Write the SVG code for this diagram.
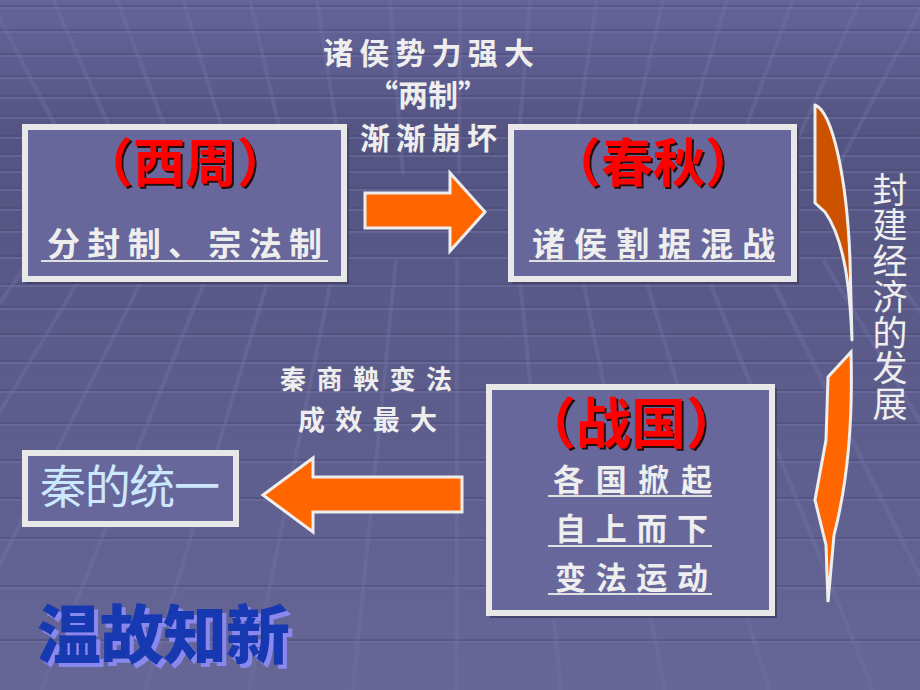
<svg xmlns="http://www.w3.org/2000/svg" width="920" height="690" viewBox="0 0 920 690">
<defs>
<linearGradient id="bg" x1="0" y1="0" x2="0" y2="1">
<stop offset="0" stop-color="#64649a"/>
<stop offset="0.2" stop-color="#545482"/>
<stop offset="0.45" stop-color="#5a5a89"/>
<stop offset="1" stop-color="#666697"/>
</linearGradient>
<filter id="redshadow" x="-10%" y="-10%" width="130%" height="130%">
<feDropShadow dx="2" dy="2" stdDeviation="0.6" flood-color="#220810" flood-opacity="1"/>
</filter>
<filter id="blueshadow" x="-10%" y="-10%" width="130%" height="130%">
<feDropShadow dx="4" dy="4" stdDeviation="0.5" flood-color="#8888ee" flood-opacity="1"/>
</filter>
<style>
.hl{stroke:#7070a3;stroke-width:2;opacity:0.55}
.hd{stroke:#4c4c78;stroke-width:2;opacity:0.5}
.dl{stroke:#7272a6;stroke-width:4;opacity:0.38}
.box{fill:#67679b;stroke:#e8e8e8;stroke-width:6}
.shd{fill:#44446c}
.title{font-family:"Noto Sans CJK SC","Noto Sans CJK TC",sans-serif;font-weight:700;text-anchor:middle;fill:#ff0000;filter:url(#redshadow)}
.cal{font-family:"Noto Sans CJK SC","Noto Sans CJK TC",sans-serif;font-weight:700;fill:#eeeeee}
.ul{stroke:#e0e0e0;stroke-width:2}
.arr{fill:#ff6600;stroke:#eeeeee;stroke-width:3;stroke-linejoin:miter}
.vt{font-family:"Noto Sans CJK SC",sans-serif;font-size:35px;fill:#eeeeee;writing-mode:vertical-rl;letter-spacing:0.7px}
</style>
</defs>
<rect width="920" height="690" fill="url(#bg)"/>
<g id="grid">
<g>
<line class="hd" x1="0" y1="6" x2="920" y2="6"/><line class="hl" x1="0" y1="8" x2="920" y2="8"/>
<line class="hd" x1="0" y1="30" x2="920" y2="30"/><line class="hl" x1="0" y1="32" x2="920" y2="32"/>
<line class="hd" x1="0" y1="54" x2="920" y2="54"/><line class="hl" x1="0" y1="56" x2="920" y2="56"/>
<line class="hd" x1="0" y1="76" x2="920" y2="76"/><line class="hl" x1="0" y1="78" x2="920" y2="78"/>
<line class="hd" x1="0" y1="96" x2="920" y2="96"/><line class="hl" x1="0" y1="98" x2="920" y2="98"/>
<line class="hd" x1="0" y1="116" x2="920" y2="116"/><line class="hl" x1="0" y1="118" x2="920" y2="118"/>
<line class="hd" x1="0" y1="136" x2="920" y2="136"/><line class="hl" x1="0" y1="138" x2="920" y2="138"/>
<line class="hd" x1="0" y1="154" x2="920" y2="154"/><line class="hl" x1="0" y1="156" x2="920" y2="156"/>
<line class="hd" x1="0" y1="170" x2="920" y2="170"/><line class="hl" x1="0" y1="172" x2="920" y2="172"/>
<line class="hd" x1="0" y1="188" x2="920" y2="188"/><line class="hl" x1="0" y1="190" x2="920" y2="190"/>
<line class="hd" x1="0" y1="208" x2="920" y2="208"/><line class="hl" x1="0" y1="210" x2="920" y2="210"/>
<line class="hd" x1="0" y1="230" x2="920" y2="230"/><line class="hl" x1="0" y1="232" x2="920" y2="232"/>
<line class="hd" x1="0" y1="256" x2="920" y2="256"/><line class="hl" x1="0" y1="258" x2="920" y2="258"/>
<line class="hd" x1="0" y1="284" x2="920" y2="284"/><line class="hl" x1="0" y1="286" x2="920" y2="286"/>
<line class="hd" x1="0" y1="307" x2="920" y2="307"/><line class="hl" x1="0" y1="309" x2="920" y2="309"/>
<line class="hd" x1="0" y1="334" x2="920" y2="334"/><line class="hl" x1="0" y1="336" x2="920" y2="336"/>
<line class="hd" x1="0" y1="361" x2="920" y2="361"/><line class="hl" x1="0" y1="363" x2="920" y2="363"/>
<line class="hd" x1="0" y1="390" x2="920" y2="390"/><line class="hl" x1="0" y1="392" x2="920" y2="392"/>
<line class="hd" x1="0" y1="423" x2="920" y2="423"/><line class="hl" x1="0" y1="425" x2="920" y2="425"/>
<line class="hd" x1="0" y1="460" x2="920" y2="460"/><line class="hl" x1="0" y1="462" x2="920" y2="462"/>
<line class="hd" x1="0" y1="498" x2="920" y2="498"/><line class="hl" x1="0" y1="500" x2="920" y2="500"/>
<line class="hd" x1="0" y1="538" x2="920" y2="538"/><line class="hl" x1="0" y1="540" x2="920" y2="540"/>
<line class="hd" x1="0" y1="586" x2="920" y2="586"/><line class="hl" x1="0" y1="588" x2="920" y2="588"/>
<line class="hd" x1="0" y1="640" x2="920" y2="640"/><line class="hl" x1="0" y1="642" x2="920" y2="642"/>
</g>
<g>
<line class="dl" x1="-10" y1="0" x2="81" y2="175"/>
<line class="dl" x1="53" y1="0" x2="131" y2="175"/>
<line class="dl" x1="117" y1="0" x2="183" y2="175"/>
<line class="dl" x1="183" y1="0" x2="236" y2="175"/>
<line class="dl" x1="250" y1="0" x2="290" y2="175"/>
<line class="dl" x1="317" y1="0" x2="344" y2="175"/>
<line class="dl" x1="390" y1="0" x2="403" y2="175"/>
<line class="dl" x1="460" y1="0" x2="459" y2="175"/>
<line class="dl" x1="530" y1="0" x2="516" y2="175"/>
<line class="dl" x1="597" y1="0" x2="570" y2="175"/>
<line class="dl" x1="663" y1="0" x2="623" y2="175"/>
<line class="dl" x1="727" y1="0" x2="675" y2="175"/>
<line class="dl" x1="793" y1="0" x2="728" y2="175"/>
<line class="dl" x1="860" y1="0" x2="782" y2="175"/>
<line class="dl" x1="925" y1="0" x2="834" y2="175"/>
</g>
<g>
<line class="dl" x1="-31" y1="260" x2="-375" y2="690"/>
<line class="dl" x1="30" y1="260" x2="-271" y2="690"/>
<line class="dl" x1="91" y1="260" x2="-167" y2="690"/>
<line class="dl" x1="152" y1="260" x2="-63" y2="690"/>
<line class="dl" x1="213" y1="260" x2="41" y2="690"/>
<line class="dl" x1="274" y1="260" x2="145" y2="690"/>
<line class="dl" x1="335" y1="260" x2="249" y2="690"/>
<line class="dl" x1="396" y1="260" x2="353" y2="690"/>
<line class="dl" x1="457" y1="260" x2="457" y2="690"/>
<line class="dl" x1="518" y1="260" x2="561" y2="690"/>
<line class="dl" x1="579" y1="260" x2="665" y2="690"/>
<line class="dl" x1="640" y1="260" x2="769" y2="690"/>
<line class="dl" x1="701" y1="260" x2="873" y2="690"/>
<line class="dl" x1="762" y1="260" x2="977" y2="690"/>
<line class="dl" x1="823" y1="260" x2="1081" y2="690"/>
<line class="dl" x1="884" y1="260" x2="1185" y2="690"/>
</g>
</g>

<g id="connectors">
<polygon id="arrow-right" class="arr" points="365,193 450,193 450,173 485,212 450,251 450,228 365,228"/>
<polygon id="arrow-left" class="arr" points="462,477 313,477 313,458 263,495 313,532 313,512 462,512"/>
<g id="curved-arrow">
<path d="M815,105 C833,112 847,180 850,260 L852,340 C850,290 845,240 825,212 L815,203 Z" fill="#cc5200" stroke="#eeeeee" stroke-width="3" stroke-linejoin="round"/>
<path d="M828,377 L851,352 C853,420 847,485 834,535 L828,602 L826,545 L815,500 L826,440 Z" fill="#ff6600" stroke="#eeeeee" stroke-width="3" stroke-linejoin="miter"/>
</g>
</g>

<g id="label-top">
<text class="cal" font-size="30" x="323" y="64" textLength="211" lengthAdjust="spacing">诸侯势力强大</text>
<text class="cal" font-size="30" x="428" y="106" text-anchor="middle">“两制”</text>
<text class="cal" font-size="30" x="360" y="149" textLength="137" lengthAdjust="spacing">渐渐崩坏</text>
</g>

<g id="label-bottom">
<text class="cal" font-size="26" x="280" y="389" textLength="172" lengthAdjust="spacing">秦商鞅变法</text>
<text class="cal" font-size="27" x="298" y="430" textLength="139" lengthAdjust="spacing">成效最大</text>
</g>

<g id="node-xizhou">
<rect class="shd" x="26" y="128" width="323" height="156"/>
<rect class="box" x="25" y="127" width="319" height="152"/>
<text class="title" font-size="52" x="185" y="182">（西周）</text>
<text class="cal" font-size="33" x="47" y="256" textLength="275" lengthAdjust="spacing">分封制、宗法制</text>
<line class="ul" x1="41" y1="261" x2="328" y2="261"/>
</g>

<g id="node-chunqiu">
<rect class="shd" x="512" y="128" width="287" height="156"/>
<rect class="box" x="511" y="127" width="283" height="152"/>
<text class="title" font-size="52" x="653" y="182">（春秋）</text>
<text class="cal" font-size="33" x="532" y="256" textLength="243" lengthAdjust="spacing">诸侯割据混战</text>
<line class="ul" x1="529" y1="261" x2="775" y2="261"/>
</g>

<g id="node-zhanguo">
<rect class="shd" x="490" y="388" width="287" height="230"/>
<rect class="box" x="489" y="387" width="283" height="226"/>
<text class="title" font-size="55" x="631" y="443">（战国）</text>
<text class="cal" font-size="31" x="553" y="491" textLength="159" lengthAdjust="spacing">各国掀起</text>
<line class="ul" x1="548" y1="496" x2="712" y2="496"/>
<text class="cal" font-size="31" x="555" y="540" textLength="153" lengthAdjust="spacing">自上而下</text>
<line class="ul" x1="548" y1="546" x2="712" y2="546"/>
<text class="cal" font-size="31" x="555" y="589" textLength="153" lengthAdjust="spacing">变法运动</text>
<line class="ul" x1="548" y1="594" x2="712" y2="594"/>
</g>

<g id="node-qin">
<rect class="box" x="25" y="453" width="211" height="71"/>
<text font-family="Noto Sans CJK SC, sans-serif" font-size="46" fill="#cce8ff" x="40" y="503" textLength="180" lengthAdjust="spacing">秦的统一</text>
</g>

<g id="label-vertical">
<text class="vt" x="890" y="172">封建经济的发展</text>
</g>

<g id="title-wengu">
<text font-family="Noto Sans CJK SC, sans-serif" font-weight="900" font-size="64" fill="#1838b0" filter="url(#blueshadow)" x="37" y="658" textLength="253" lengthAdjust="spacing">温故知新</text>
</g>
</svg>
